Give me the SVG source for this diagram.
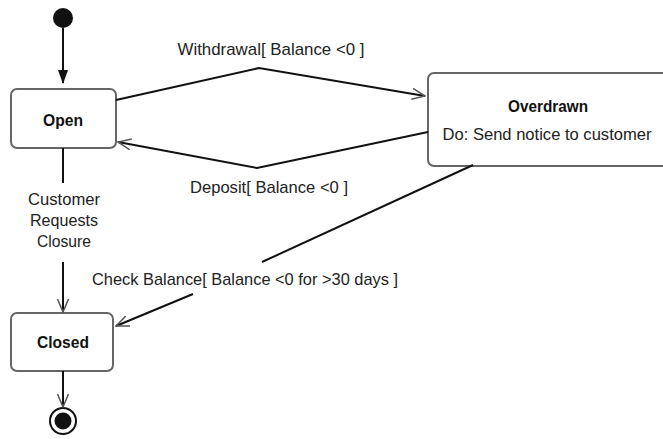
<svg xmlns="http://www.w3.org/2000/svg" width="663" height="439" viewBox="0 0 663 439">
<style>
.box{fill:#fff;stroke:#666;stroke-width:2}
.ln{fill:none;stroke:#111;stroke-width:2}
.t{font-family:"Liberation Sans",Arial,sans-serif;font-size:17px;fill:#222}
.b{font-family:"Liberation Sans",Arial,sans-serif;font-size:17px;font-weight:bold;fill:#111}
</style>
<defs>
<marker id="open" viewBox="0 0 14 12" refX="13" refY="6" markerWidth="14" markerHeight="12" markerUnits="userSpaceOnUse" orient="auto">
<path d="M0,0.5 L13,6 L0,11.5" fill="none" stroke="#555" stroke-width="1.5"/>
</marker>
<marker id="fill" viewBox="0 0 14 10" refX="13" refY="5" markerWidth="14" markerHeight="10" markerUnits="userSpaceOnUse" orient="auto">
<path d="M0,0 L14,5 L0,10 Z" fill="#111"/>
</marker>
</defs>
<g id="initial"><circle cx="63" cy="18" r="10" fill="#111"/></g>
<g id="open-state"><rect class="box" x="11" y="89" width="105" height="59" rx="6"/><text class="b" x="63" y="126" text-anchor="middle" textLength="40" lengthAdjust="spacingAndGlyphs">Open</text></g>
<g id="overdrawn"><rect class="box" x="428" y="73" width="250" height="93" rx="6"/><text class="b" x="548" y="112" text-anchor="middle" textLength="80" lengthAdjust="spacingAndGlyphs">Overdrawn</text><text class="t" x="547" y="140" text-anchor="middle" textLength="209" lengthAdjust="spacingAndGlyphs">Do: Send notice to customer</text></g>
<g id="closed"><rect class="box" x="11" y="313" width="102" height="58" rx="6"/><text class="b" x="63" y="348" text-anchor="middle" textLength="52" lengthAdjust="spacingAndGlyphs">Closed</text></g>
<g id="final"><circle cx="63" cy="421" r="13" fill="#fff" stroke="#111" stroke-width="2"/><circle cx="63" cy="421" r="8.5" fill="#111"/></g>
<g id="connectors">
<line class="ln" x1="63" y1="28" x2="63" y2="83" marker-end="url(#fill)"/>
<polyline class="ln" points="116,100 259,68 425,96" marker-end="url(#open)"/>
<polyline class="ln" points="428,132 257,168 118,142" marker-end="url(#open)"/>
<line class="ln" x1="63" y1="148" x2="63" y2="183"/>
<line class="ln" x1="63" y1="262" x2="63" y2="312" marker-end="url(#open)"/>
<line class="ln" x1="473" y1="165" x2="262" y2="262"/>
<line class="ln" x1="193" y1="294" x2="116" y2="326" marker-end="url(#open)"/>
<line class="ln" x1="63" y1="371" x2="63" y2="407" marker-end="url(#open)"/>
</g>
<g id="labels">
<text class="t" x="271" y="55" text-anchor="middle" textLength="187" lengthAdjust="spacingAndGlyphs">Withdrawal[ Balance &lt;0 ]</text>
<text class="t" x="269" y="193" text-anchor="middle" textLength="158" lengthAdjust="spacingAndGlyphs">Deposit[ Balance &lt;0 ]</text>
<text class="t" x="245" y="285" text-anchor="middle" textLength="306" lengthAdjust="spacingAndGlyphs">Check Balance[ Balance &lt;0 for &gt;30 days ]</text>
<text class="t" x="64" y="205" text-anchor="middle" textLength="72" lengthAdjust="spacingAndGlyphs">Customer</text>
<text class="t" x="64" y="226" text-anchor="middle" textLength="68" lengthAdjust="spacingAndGlyphs">Requests</text>
<text class="t" x="64" y="247" text-anchor="middle" textLength="54" lengthAdjust="spacingAndGlyphs">Closure</text>
</g>
</svg>
